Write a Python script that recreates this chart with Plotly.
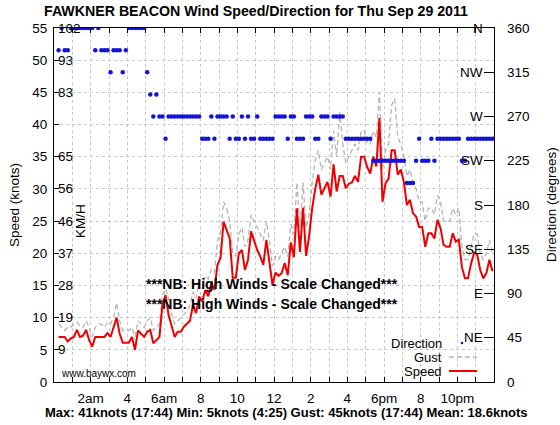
import plotly.graph_objects as go

# ---------------- data ----------------
start_hour = 0.25
step_min = 10

speed = [7.0, 7.0, 7.0, 6.3, 6.8, 7.0, 8.1, 7.0, 7.2, 8.1,
         6.5, 5.5, 7.0, 7.0, 7.0, 7.0, 7.6, 7.0, 8.5, 10.0,
         7.5, 6.1, 6.1, 6.1, 7.0, 5.0, 8.0, 7.5, 7.0, 7.8,
         8.1, 6.0, 6.5, 7.0, 12.0, 13.5, 10.4, 8.5, 7.0, 7.8,
         7.8, 8.6, 9.1, 9.5, 12.0, 10.7, 13.3, 12.5, 14.3, 13.3,
         15.4, 14.3, 18.2, 19.3, 24.9, 23.6, 22.3, 16.2, 16.2, 20.0,
         20.5, 17.4, 19.0, 23.4, 22.0, 20.5, 19.5, 18.2, 22.1, 18.5,
         15.1, 17.0, 16.5, 16.9, 18.5, 16.6, 21.7, 19.4, 27.0, 20.2,
         27.1, 19.6, 22.7, 27.0, 30.0, 32.2, 29.1, 30.1, 31.1, 28.8,
         33.8, 29.6, 32.0, 32.0, 30.1, 30.8, 31.0, 32.0, 31.1, 35.0,
         35.0, 33.4, 32.4, 35.0, 33.5, 41.0, 28.0, 30.9, 31.6, 36.0,
         36.0, 32.2, 33.0, 31.1, 27.5, 28.3, 26.2, 25.7, 24.1, 24.1,
         21.0, 23.1, 23.1, 22.3, 25.2, 23.9, 21.3, 21.0, 21.0, 23.1,
         21.8, 22.1, 17.8, 16.1, 16.1, 18.4, 20.1, 19.8, 17.4, 16.1,
         16.9, 19.0, 17.2]

gust = [9.0, 8.5, 8.0, 8.5, 8.5, 9.0, 9.3, 8.7, 8.5, 9.5,
        8.5, 7.0, 8.5, 9.0, 9.0, 8.5, 9.3, 9.0, 10.0, 12.3,
        9.5, 8.0, 8.0, 8.0, 8.5, 7.0, 9.5, 9.0, 8.5, 9.5,
        10.0, 8.0, 8.5, 9.0, 13.5, 14.5, 13.0, 10.5, 9.0, 9.5,
        10.0, 10.5, 11.0, 12.0, 14.0, 13.0, 15.5, 14.5, 16.5, 16.0,
        17.5, 17.0, 22.0, 23.0, 28.0, 27.0, 25.0, 20.0, 19.5, 23.0,
        24.0, 21.0, 22.0, 26.0, 25.0, 24.0, 23.0, 22.0, 25.0, 22.0,
        18.0, 19.5, 19.0, 20.0, 21.0, 19.5, 24.5, 23.0, 31.0, 24.0,
        31.0, 24.0, 26.0, 31.0, 34.5, 36.0, 33.0, 34.0, 35.0, 33.0,
        39.0, 35.0, 42.0, 37.0, 34.0, 35.0, 36.0, 37.0, 36.0, 39.0,
        39.0, 37.0, 37.0, 39.0, 38.0, 45.0, 33.0, 36.0, 37.0, 43.0,
        44.0, 38.0, 37.0, 35.0, 32.0, 33.0, 31.0, 30.0, 28.0, 28.0,
        25.0, 27.0, 27.0, 26.0, 29.0, 28.0, 25.0, 25.0, 25.0, 27.0,
        26.0, 27.0, 21.0, 19.0, 19.0, 21.0, 23.0, 23.0, 20.0, 19.0,
        20.0, 22.0, 20.0]

direction = [337.5, 360, 337.5, 337.5, 360, 360, 360, 360, 360, 360,
             360, 360, 337.5, 360, 337.5, 337.5, 337.5, 315, 337.5, 337.5,
             337.5, 315, 337.5, 360, 360, 360, 360, 360, 360, 315,
             292.5, 270, 292.5, 270, 270, 247.5, 270, 270, 270, 270,
             270, 270, 270, 270, 270, 270, 270, 247.5, 247.5, 247.5,
             270, 247.5, 270, 270, 270, 270, 247.5, 270, 247.5, 247.5,
             270, 247.5, 270, 247.5, 247.5, 270, 247.5, 247.5, 247.5, 247.5,
             247.5, 270, 270, 270, 270, 247.5, 270, 270, 247.5, 247.5,
             247.5, 270, 270, 270, 247.5, 247.5, 270, 270, 270, 247.5,
             270, 270, 270, 270, 247.5, 247.5, 247.5, 247.5, 247.5, 247.5,
             247.5, 247.5, 247.5, 225, 225, 225, 225, 225, 225, 225,
             225, 225, 225, 225, 202.5, 202.5, 202.5, 225, 247.5, 225,
             225, 225, 247.5, 225, 247.5, 247.5, 247.5, 247.5, 247.5, 247.5,
             247.5, 247.5, 225, 225, 247.5, 247.5, 247.5, 247.5, 247.5, 247.5,
             247.5, 247.5, 247.5]

hours = [start_hour + i * step_min / 60 for i in range(len(speed))]

x_tick_vals = [2, 4, 6, 8, 10, 12, 14, 16, 18, 20, 22]
x_tick_text = ["2am", "4", "6am", "8", "10", "12", "2", "4", "6pm", "8", "10pm"]
speed_ticks = list(range(0, 56, 5))
kmh_levels = [55, 50, 45, 35, 30, 25, 20, 15, 10, 5]
kmh_labels = ["102", "93", "83", "65", "56", "46", "37", "28", "19", "9"]
dir_ticks = [0, 45, 90, 135, 180, 225, 270, 315, 360]
compass_levels = [360, 315, 270, 225, 180, 135, 90, 45]
compass_labels = ["N", "NW", "W", "SW", "S", "SE", "E", "NE"]

title_text = "FAWKNER BEACON Wind Speed/Direction for Thu Sep 29 2011"
stats_text = "Max: 41knots (17:44) Min: 5knots (4:25) Gust: 45knots (17:44) Mean: 18.6knots"
notice_text = "***NB: High Winds - Scale Changed***"

# ---------------- figure ----------------
FONT = "Liberation Sans, Arial, sans-serif"
W, H = 560, 425
L, R, T, B = 54, 66, 28, 43
PW, PH = W - L - R, H - T - B


def px(x):
    return (x - L) / PW


def py(y):
    return (T + PH - y) / PH


fig = go.Figure()

fig.add_trace(go.Scatter(x=hours, y=direction, yaxis="y2", mode="markers",
                         marker=dict(color="#1414d8", size=4.5, line=dict(width=0)),
                         showlegend=False, hoverinfo="skip"))
fig.add_trace(go.Scatter(x=hours, y=gust, mode="lines",
                         line=dict(color="#b4b4b4", width=1.3, dash="5px,3px"),
                         showlegend=False, hoverinfo="skip"))
fig.add_trace(go.Scatter(x=hours, y=speed, mode="lines",
                         line=dict(color="#ee0000", width=2),
                         showlegend=False, hoverinfo="skip"))

grid = dict(showgrid=True, gridcolor="#c8c8c8", griddash="dot", gridwidth=1)

fig.update_layout(
    width=W, height=H,
    margin=dict(l=L, r=R, t=T, b=B, pad=0),
    paper_bgcolor="white", plot_bgcolor="white",
    font=dict(family=FONT, size=13, color="black"),
    xaxis=dict(range=[0, 24], tickmode="array",
               tickvals=list(range(0, 25)),
               ticktext=[x_tick_text[x_tick_vals.index(h)] if h in x_tick_vals else "" for h in range(0, 25)],
               ticks="inside", ticklen=5, tickcolor="black", mirror="ticks",
               showline=True, linecolor="black", linewidth=1,
               zeroline=False, tickfont=dict(size=13.5), ticklabelstandoff=4, **grid),
    yaxis=dict(range=[0, 55], tickvals=speed_ticks, ticks="inside", ticklen=5,
               tickcolor="black", showline=True, linecolor="black", linewidth=1,
               mirror=True, zeroline=False, tickfont=dict(size=13.5),
               ticklabelstandoff=3, **grid),
    yaxis2=dict(range=[0, 360], tickvals=dir_ticks, overlaying="y", side="right",
                ticks="inside", ticklen=10, tickcolor="black", showgrid=False,
                zeroline=False, showline=False, tickfont=dict(size=13.5),
                ticklabelstandoff=12),
)

ann = []
ann.append(dict(text="<b>%s</b>" % title_text, x=px(256), xref="paper", xanchor="center",
                y=py(11), yref="paper", yanchor="middle", showarrow=False,
                font=dict(size=14.2)))
ann.append(dict(text="<b>%s</b>" % stats_text, x=px(286), xref="paper", xanchor="center",
                y=py(413), yref="paper", yanchor="middle",
                showarrow=False, font=dict(size=13)))
ann.append(dict(text="Speed (knots)", x=px(14), xref="paper", xanchor="center",
                y=py(205), yref="paper", yanchor="middle", textangle=-90, showarrow=False,
                font=dict(size=13.5)))
ann.append(dict(text="Direction (degrees)", x=px(551), xref="paper", xanchor="center",
                y=py(205), yref="paper", yanchor="middle", textangle=-90, showarrow=False,
                font=dict(size=13.5)))
for lv, lb in zip(kmh_levels, kmh_labels):
    ann.append(dict(text=lb, x=0, xref="paper", xanchor="left", xshift=2,
                    y=lv, yref="y", yanchor="middle", showarrow=False,
                    font=dict(size=13.5)))
ann.append(dict(text="KM/H", x=px(80), xref="paper", xanchor="center", y=25, yref="y",
                yanchor="middle", textangle=-90, showarrow=False, font=dict(size=13.5)))
for lv, lb in zip(compass_levels, compass_labels):
    ann.append(dict(text=lb, x=1, xref="paper", xanchor="right", xshift=-9,
                    y=lv, yref="y2", yanchor="middle", showarrow=False,
                    font=dict(size=13.5)))
for yy in (284, 304):
    ann.append(dict(text="<b>%s</b>" % notice_text, x=px(272), xref="paper", xanchor="center",
                    y=py(yy), yref="paper", yanchor="middle",
                    showarrow=False, font=dict(size=14)))
ann.append(dict(text="www.baywx.com", x=px(59), xref="paper", xanchor="left",
                y=py(373), yref="paper", yanchor="middle",
                showarrow=False, font=dict(size=10)))
for yy, lb in ((343, "Direction"), (357, "Gust"), (371, "Speed")):
    ann.append(dict(text=lb, x=px(444), xref="paper", xanchor="right",
                    y=py(yy), yref="paper", yanchor="middle",
                    showarrow=False, font=dict(size=13)))
fig.update_layout(annotations=ann)

shapes = [
    dict(type="line", xref="paper", yref="paper", x0=px(449), x1=px(477),
         y0=py(357), y1=py(357), line=dict(color="#b4b4b4", width=1.3, dash="5px,3px")),
    dict(type="line", xref="paper", yref="paper", x0=px(449), x1=px(477),
         y0=py(371), y1=py(371), line=dict(color="#ee0000", width=2)),
    dict(type="circle", xref="paper", yref="paper", x0=px(460.7), x1=px(463.3),
         y0=py(344.3), y1=py(341.7), fillcolor="#1414d8", line=dict(width=0)),
]
fig.update_layout(shapes=shapes)

fig.write_html("out.html")
